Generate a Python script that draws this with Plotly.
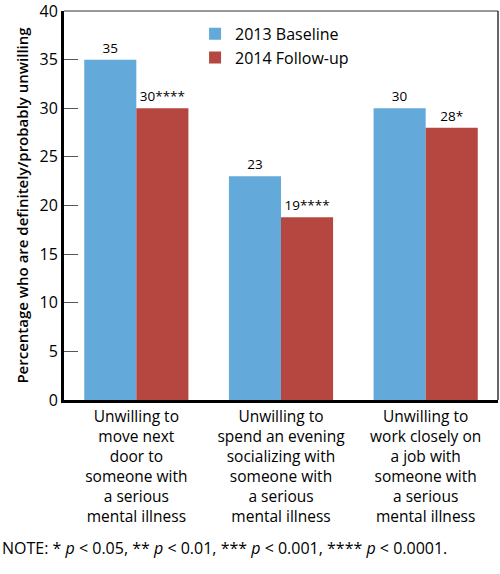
import plotly.graph_objects as go

categories = [
    "Unwilling to<br>move next<br>door to<br>someone with<br>a serious<br>mental illness",
    "Unwilling to<br>spend an evening<br>socializing with<br>someone with<br>a serious<br>mental illness",
    "Unwilling to<br>work closely on<br>a job with<br>someone with<br>a serious<br>mental illness",
]
baseline_2013 = [35, 23, 30]
followup_2014 = [30, 18.8, 28]
baseline_labels = ["35", "23", "30"]
followup_labels = ["30****", "19****", "28*"]
y_ticks = [0, 5, 10, 15, 20, 25, 30, 35, 40]

FONT = "Open Sans"
BLUE = "#63A9D9"
RED = "#B64740"

fig = go.Figure()
fig.add_trace(go.Bar(
    name="2013 Baseline", x=categories, y=baseline_2013,
    marker=dict(color=BLUE, line=dict(width=0)),
    text=baseline_labels, textposition="outside",
    textfont=dict(family=FONT, size=13.5, color="black"), cliponaxis=False,
))
fig.add_trace(go.Bar(
    name="2014 Follow-up", x=categories, y=followup_2014,
    marker=dict(color=RED, line=dict(width=0)),
    text=followup_labels, textposition="outside",
    textfont=dict(family=FONT, size=13.5, color="black"), cliponaxis=False,
))

fig.update_layout(
    width=500, height=574,
    margin=dict(l=64, r=2, t=11, b=174),
    paper_bgcolor="white", plot_bgcolor="white",
    barmode="group", bargap=0.28, bargroupgap=0,
    font=dict(family=FONT, color="black"),
    showlegend=True,
    legend=dict(
        x=0.302, y=0.985, xanchor="left", yanchor="top",
        bgcolor="rgba(0,0,0,0)", font=dict(family=FONT, size=16, color="black"),
        itemsizing="constant",
    ),
)
fig.update_yaxes(
    range=[0, 40], tickvals=y_ticks, ticks="inside", ticklen=14, tickwidth=1,
    tickcolor="#555555", showgrid=False, zeroline=False, automargin=False,
    ticklabeloverflow="allow",
    showline=True, linewidth=3, linecolor="black",
    tickfont=dict(family=FONT, size=16, color="black"),
    title=dict(text="Percentage who are definitely/probably unwilling",
               font=dict(family=FONT, size=15, color="black", weight=600), standoff=8),
)
fig.update_xaxes(
    showline=True, linewidth=3, linecolor="black", ticks="", automargin=False,
    ticklabeloverflow="allow",
    tickfont=dict(family=FONT, size=15.5, color="black"),
)
# thin top and right frame lines
fig.add_shape(type="line", xref="paper", yref="paper", x0=0, x1=1, y0=1, y1=1,
              line=dict(color="#333333", width=1))
fig.add_shape(type="line", xref="paper", yref="paper", x0=1, x1=1, y0=0, y1=1,
              line=dict(color="#333333", width=1.5))
fig.add_annotation(
    text="NOTE: * <i>p</i> &lt; 0.05, ** <i>p</i> &lt; 0.01, *** <i>p</i> &lt; 0.001, **** <i>p</i> &lt; 0.0001.",
    xref="paper", yref="paper", x=-0.147, y=-0.38, xanchor="left", yanchor="middle",
    showarrow=False, font=dict(family=FONT, size=16, color="black"),
)
fig.write_html(
    "out.html",
    config={"displayModeBar": False},
    post_script="document.body.style.margin='0';document.body.style.overflow='hidden';",
)
